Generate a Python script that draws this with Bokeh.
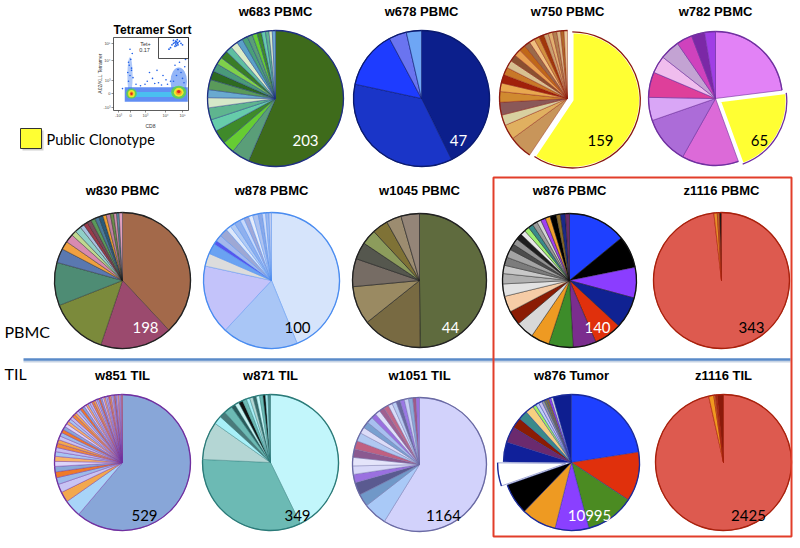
import math
from bokeh.plotting import figure
from bokeh.models import Range1d
from bokeh.core.properties import value
from bokeh.embed import file_html
from bokeh.resources import INLINE

# ---------------- data ----------------
titles = ["w683 PBMC", "w678 PBMC", "w750 PBMC", "w782 PBMC",
          "w830 PBMC", "w878 PBMC", "w1045 PBMC", "w876 PBMC", "z1116 PBMC",
          "w851 TIL", "w871 TIL", "w1051 TIL", "w876 Tumor", "z1116 TIL"]
clone_totals = ["203", "47", "159", "65", "198", "100", "44", "140", "343",
                "529", "349", "1164", "10995", "2425"]

w683_values = [59, 4.5, 3.0, 3.5, 3.0, 3.0, 2.5, 2.0, 2.5, 2.2, 2.0, 1.8, 2.0, 1.6,
               1.8, 1.5, 1.4, 1.3, 1.2, 1.1, 1.0, 0.9, 0.8, 0.8]
w678_values = [42.7, 35.6, 13.8, 4.2, 3.6]
w750_values = [58.5, 5.5, 3.5, 2.5, 3.0, 2.5, 2.0, 2.0, 1.8, 1.8, 1.6, 1.6, 1.5, 1.4,
               1.3, 1.2, 1.2, 1.1, 1.0, 1.0, 0.9, 0.8, 0.8]
w782_values = [23, 21.4, 13.7, 11.5, 5.6, 6.1, 4.2, 4.8, 3.8, 3.2, 2.6]
w830_values = [38.2, 17.2, 13.9, 10.3, 3.4, 2.0, 2.0, 1.2, 1.5, 1.0, 1.0, 1.0, 1.0,
               1.0, 1.0, 0.8, 1.0, 0.8, 0.7, 0.6, 0.8]
w878_values = [44.1, 18.2, 16.6, 3.1, 2.5, 1.0, 1.5, 2.0, 1.2, 1.2, 1.5, 1.0, 1.2,
               1.0, 1.3, 1.0, 0.8, 0.8, 0.6]
w1045_values = [48, 13.9, 8.9, 6.5, 4.0, 3.5, 3.7, 3.5, 4.3]
w876_values = [14.1, 7.8, 7.4, 7.7, 6.7, 5.6, 5.9, 4.5, 4.3, 3.5, 3.9, 3.0, 2.5, 2.0,
               2.0, 2.0, 1.5, 1.5, 1.5, 1.2, 1.2, 1.2, 1.2, 1.0, 1.2, 1.2, 1.5, 1.0,
               1.2, 1.0]
z1116_pbmc_values = [98.2, 0.8, 0.5, 0.5]
w851_values = [61.1, 4.1, 2.5, 2.0, 1.6, 1.4, 1.3, 1.2, 1.2, 1.1, 1.0, 1.0, 0.9, 0.9,
               0.9, 0.8, 0.8, 0.8, 0.7, 0.7, 0.7, 0.7, 0.6, 0.6, 0.6, 0.6, 0.6, 0.5,
               0.5, 0.5, 0.5, 0.5, 0.5, 0.4, 0.4, 0.4, 0.4, 0.4, 0.4, 0.4, 0.35, 0.35,
               0.35, 0.35, 0.3, 0.3, 0.3, 0.3, 0.3, 0.3, 0.25, 0.25]
w871_values = [43, 33.1, 9.1, 2.0, 1.5, 2.0, 1.0, 1.0, 1.0, 1.0, 0.8, 0.8, 0.8, 0.8,
               0.8, 0.6, 0.6, 0.6]
w1051_values = [57.8, 5.6, 3.0, 3.0, 2.0, 2.0, 2.0, 2.0, 2.0, 2.0, 1.5, 1.5, 1.5, 1.2,
                1.2, 1.2, 1.2, 1.0, 1.0, 1.0, 1.0, 1.0, 1.0, 0.8, 0.8]
w876_tumor_values = [22.5, 11.7, 11.6, 8.0, 8.3, 7.4, 5.5, 4.7, 3.8, 2.5, 2.2, 2.0, 0.8,
                     0.8, 0.8, 0.6, 0.6, 0.6, 0.5, 0.5, 4.4]
z1116_til_values = [96.5, 1.2, 0.4, 0.4, 1.5]

# flow-cytometry inset (percent of the plot frame: u = CD8, v = tetramer)
band_u = [57, 57]
band_v = [22, 22]
band_w = [84, 70]
band_h = [20, 7]
density_u = [22, 87, 24, 87, 24, 87, 24, 87, 24, 87]
density_v = [48, 40, 23, 25, 23, 25, 23, 25, 23, 26]
density_w = [7, 22, 14, 20, 9, 13, 5, 8, 3, 4.5]
density_h = [50, 38, 14, 18, 10, 12, 6, 7, 3.5, 4.5]
gate_u = [78, 80, 82, 83, 84, 85, 86, 84, 82, 88, 90, 76, 80, 86, 83, 92, 74, 85]
gate_v = [90, 92, 93, 91, 94, 92, 93, 89, 88, 95, 92, 86, 96, 90, 95, 90, 84, 97]
sparse_u = [20, 22, 24, 21, 23, 26, 19, 25, 22, 20, 24, 45, 52, 60, 66, 48, 58, 70,
            80, 84, 90, 95, 88, 92, 86, 96, 82, 94, 12, 30, 36, 42, 55, 64, 72, 76]
sparse_v = [40, 48, 55, 62, 70, 45, 52, 78, 84, 66, 58, 40, 44, 38, 48, 52, 55, 42,
            40, 48, 52, 60, 66, 44, 56, 70, 62, 38, 30, 36, 34, 36, 37, 35, 36, 40]
y_tick_labels = ["10⁵", "10⁴", "10³", "0", "-10³"]
x_tick_labels = ["-10³", "0", "10³", "10⁴", "10⁵"]
gate_label = ["Tet+", "0.17"]

# ---------------- styles ----------------
def cyc(base, n):
    return [base[i % len(base)] for i in range(n)]

w683_colors = ["#3e6b1b"] + cyc(["#5a9e78", "#66cc33", "#3f8a2a", "#66ccaa", "#5fb58f",
                                 "#d6e8c8", "#6aaad0", "#5a9a5a", "#2e6a20", "#4a9a7a",
                                 "#7fd04a", "#3a7d26", "#5fbfa0", "#dcecc8", "#5aa0c8",
                                 "#4aa078"], 23)
w678_colors = ["#0c1f8c", "#1a35c8", "#1e3cff", "#6a74f0", "#6ea6f5"]
w750_colors = ["#ffff33"] + cyc(["#c8955a", "#e0b060", "#d8d0a0", "#8a5858", "#d08a30",
                                 "#e8a850", "#a0200a", "#c87828", "#d8c090", "#8a5030",
                                 "#e8a050", "#c06818", "#9a6a4a", "#f0c080", "#d09040",
                                 "#a0380a", "#c8a070", "#e0b070", "#b08050", "#d8b888",
                                 "#b06828", "#e8c898"], 22)
w782_colors = ["#e282f6", "#ffff33", "#dc6ad8", "#ac6cd8", "#d9a6f6", "#de3f9a",
               "#f0bdee", "#c3a3d3", "#cf42bd", "#7b28a6", "#a03ee6"]
w830_colors = ["#a3694a", "#9b4a6e", "#7b8a3b", "#4e8c74", "#5a78b0", "#f0a040",
               "#d88ab0", "#c0d890", "#90d0c8", "#a8c0e0", "#9a3a4a", "#7a4a5a",
               "#5a9a5a", "#4a7a9a", "#2a5a7a", "#f0a030", "#c080a0", "#6a8a4a",
               "#d090b0", "#5a8aa0", "#e0a0c0"]
w878_colors = ["#d6e4fb", "#a9c6f6", "#c3c3fa", "#dcdcdc", "#6aa2f2", "#5656ee",
               "#a4b8ec", "#9ea8d4", "#dde8fa", "#b2cbf4", "#8fb0ee", "#c8d8fa",
               "#a0a8d8", "#e6ecfa", "#b0c4f0", "#8aa8e8", "#d0dcf8", "#9cb8f0", "#c0ccf0"]
w1045_colors = ["#5f6b3e", "#786a42", "#9a8a62", "#766c64", "#55574e", "#8c9c5c",
                "#7f7236", "#9c8c70", "#948578"]
w876_colors = ["#1e40ff", "#000000", "#8b3dff", "#102292", "#e0300c", "#7b2d8e",
               "#3d8c2a", "#ee9a22", "#d8d8d8", "#8b1c04", "#f6cca6", "#e2e2e2",
               "#b0b0b0", "#c8c8c8", "#7c7c7c", "#a4a4a4", "#4c4c4c", "#949494",
               "#1e1e1e", "#e8e8e8", "#a0f070", "#3a8a8a", "#9a9a9a", "#d4d4d4",
               "#a040f0", "#f0a030", "#000000", "#8a6a2a", "#1a2a8a", "#6a2a6a"]
z1116_pbmc_colors = ["#dd5a4f", "#e8902a", "#b07030", "#1a1a1a"]
w851_colors = ["#88a6d8", "#a8d4f8"] + cyc(["#f2a84e", "#c8c4f4", "#9cbaea", "#f07a28",
                                            "#8aa8d8", "#dcd4fa", "#f8b468", "#a8c4f2",
                                            "#c4bcf0", "#ef8a3a"], 50)
w871_colors = ["#c2f6fb", "#6cbab4", "#b4d6d4", "#a8f0f8", "#4a7a7a", "#6cbab4",
               "#2a5a5a", "#c8f0f0", "#111111", "#6cbab4", "#a8f0f8", "#b4d6d4",
               "#3a6a6a", "#c8f8fa", "#6cbab4", "#111111", "#a8e8f0", "#4a8a8a"]
w1051_colors = ["#d2d2fb", "#a9c9f7", "#7098c8", "#5a5a90", "#9a70e0", "#d8d8f8",
                "#e4e4fa", "#8a5a90", "#c06080", "#b0c8f0", "#dcdcf8", "#7aa0d0",
                "#a8c0f0", "#9a70e0", "#e0e0fa", "#a06090", "#c06888", "#d8dcf8",
                "#b8ccf2", "#6a6aa0", "#9a78e4", "#c8d0f4", "#8aaad8", "#a05a88", "#9a70e0"]
w876_tumor_colors = ["#1e40ff", "#e0300c", "#4b8b22", "#8a40ff", "#ee9a22", "#000000",
                     "#ffffff", "#10209a", "#6b2a6e", "#8b1c04", "#3a8a8a", "#f6d080",
                     "#a0f060", "#c0d0f8", "#c8c0f0", "#9a9a9a", "#7a7a4a", "#8a6a3a",
                     "#a040f0", "#e0e0e0", "#0e1e90"]
z1116_til_colors = ["#dd5a4f", "#f09a20", "#c07030", "#a03018", "#8a1a0a"]

pie_values = [w683_values, w678_values, w750_values, w782_values, w830_values,
              w878_values, w1045_values, w876_values, z1116_pbmc_values, w851_values,
              w871_values, w1051_values, w876_tumor_values, z1116_til_values]
pie_colors = [w683_colors, w678_colors, w750_colors, w782_colors, w830_colors,
              w878_colors, w1045_colors, w876_colors, z1116_pbmc_colors, w851_colors,
              w871_colors, w1051_colors, w876_tumor_colors, z1116_til_colors]
edges = ["#1f2f80", "#0a1a70", "#8b1a10", "#7030a0", "#222222", "#4a8cf0", "#222222",
         "#111111", "#a8200c", "#7030a0", "#2a7a78", "#6a6aa4", "#1a2a9a", "#a8200c"]
explode = [None, None, 0, 1, None, None, None, None, None, None, None, None, 6, None]
label_colors = ["white", "white", "black", "black", "white", "black", "white", "white",
                "black", "black", "black", "black", "white", "black"]

# layout in page pixels (x right, y down)
centers = [(275, 98), (421, 98), (567, 98), (715, 98),
           (122, 280), (271, 280), (419, 280), (569, 280), (721, 280),
           (122, 462), (270, 462), (419, 464), (571, 462), (723, 462)]
radii = [68, 68, 68, 67, 68, 68, 67, 67, 68, 68, 68, 67, 68, 68]
title_ys = [11, 11, 11, 11, 190, 190, 190, 190, 190, 375, 375, 375, 375, 375]
label_pos = [(305, 140), (458, 140), (600, 140), (759, 140), (145, 327), (297, 327),
             (450, 327), (597, 327), (751, 327), (144, 515), (297, 515), (443, 515),
             (589, 515), (748, 515)]

PW, PH = 800, 548


def Y(py):
    return PH - py


p = figure(width=PW, height=PH, x_range=Range1d(0, PW), y_range=Range1d(0, PH),
           output_backend="svg", toolbar_location=None, min_border=0,
           x_axis_location=None, y_axis_location=None)
p.grid.visible = False
p.outline_line_color = None
p.background_fill_color = "white"
p.border_fill_color = "white"

# separator line
p.segment(x0=[23], y0=[Y(361)], x1=[790], y1=[Y(361)], line_color="#c8d4e4", line_width=2)
p.segment(x0=[23], y0=[Y(359)], x1=[790], y1=[Y(359)], line_color="#5a8ac8", line_width=2.5)

# pies
for i, vals in enumerate(pie_values):
    cx, cyp = centers[i]
    cy = Y(cyp)
    r = radii[i]
    total = float(sum(vals))
    cum = 0.0
    xs, ys, st, en = [], [], [], []
    for j, v in enumerate(vals):
        a0 = math.pi / 2 - 2 * math.pi * cum / total
        cum += v
        a1 = math.pi / 2 - 2 * math.pi * cum / total
        ox = oy = 0.0
        if explode[i] == j:
            mid = (a0 + a1) / 2
            d = 6 if i == 12 else 5
            ox, oy = d * math.cos(mid), d * math.sin(mid)
        xs.append(cx + ox)
        ys.append(cy + oy)
        st.append(a0)
        en.append(a1)
    lw = 0.4 if len(vals) > 15 else 0.6
    p.wedge(x=xs, y=ys, radius=r, start_angle=st, end_angle=en, direction="clock",
            fill_color=pie_colors[i], line_color=edges[i], line_width=lw)
    if explode[i] is not None and i != 12:
        j = explode[i]
        p.wedge(x=[xs[j]], y=[ys[j]], radius=r, start_angle=[st[j]], end_angle=[en[j]],
                direction="clock", fill_color=pie_colors[i][j], line_color="white",
                line_width=2.5)
    p.arc(x=xs, y=ys, radius=r, start_angle=st, end_angle=en, direction="clock",
          line_color=edges[i], line_width=1.3)

# titles & totals
p.text(x=[c[0] for c in centers], y=[Y(t) for t in title_ys], text=titles,
       text_font=value("Liberation Sans"), text_font_style="bold", text_font_size="13px",
       text_align="center", text_baseline="middle", text_color="black")
p.text(x=[l[0] for l in label_pos], y=[Y(l[1]) for l in label_pos], text=clone_totals,
       text_font=value("Lato"), text_font_size="15px", text_align="center",
       text_baseline="middle", text_color=label_colors)

# row labels
p.text(x=[4, 4], y=[Y(331), Y(373)], text=["PBMC", "TIL"], text_font=value("Lato"),
       text_font_size="16px", text_align="left", text_baseline="middle", text_color="black")

# red box
p.quad(left=[493], right=[791], top=[Y(177)], bottom=[Y(536)], fill_color=None,
       line_color="#e23e2a", line_width=2)

# public clonotype legend
p.quad(left=[22], right=[43], top=[Y(130)], bottom=[Y(150)], fill_color="#b0b0b0",
       line_color=None, fill_alpha=0.6)
p.quad(left=[20], right=[41], top=[Y(128)], bottom=[Y(148)], fill_color="#ffff33",
       line_color="#333333", line_width=1)
p.text(x=[46], y=[Y(139)], text=["Public Clonotype"], text_font=value("Lato"),
       text_font_size="14.5px", text_align="left", text_baseline="middle", text_color="black")

# ---------------- flow cytometry inset ----------------
fx0, fx1, fy0, fy1 = 113, 188, 37, 110   # frame in page px
sx = (fx1 - fx0) / 100.0
sy = (fy1 - fy0) / 100.0


def IU(u):
    return fx0 + sx * u


def IV(v):
    return Y(fy1 - sy * v)


p.rect(x=[IU(u) for u in band_u], y=[IV(v) for v in band_v],
       width=[w * sx for w in band_w], height=[h * sy for h in band_h],
       fill_color=["#3a72f0", "#46c8ee"], fill_alpha=[0.8, 0.85], line_color=None)
dens_colors = ["#3a78f0", "#3a78f0", "#5fd24a", "#5fd24a",
               "#f2e62a", "#f2e62a", "#f59a2a", "#f59a2a", "#e0261a", "#e0261a"]
dens_alpha = [0.4, 0.55, 0.9, 0.9, 1, 1, 1, 1, 1, 1]
p.ellipse(x=[IU(u) for u in density_u], y=[IV(v) for v in density_v],
          width=[w * sx for w in density_w], height=[h * sy for h in density_h],
          fill_color=dens_colors, fill_alpha=dens_alpha, line_color=None)
p.scatter(x=[IU(u) for u in sparse_u], y=[IV(v) for v in sparse_v], size=1.6,
          fill_color="#2060e8", line_color=None)
p.scatter(x=[IU(u) for u in gate_u], y=[IV(v) for v in gate_v], size=1.8,
          fill_color="#2060e8", line_color=None)
p.quad(left=[fx0], right=[fx1], top=[Y(fy0)], bottom=[Y(fy1)], fill_color=None,
       line_color="#333333", line_width=0.8)
p.quad(left=[158], right=[fx1], top=[Y(fy0)], bottom=[Y(58)], fill_color=None,
       line_color="#222222", line_width=0.8)
ytick_py = [43, 60, 80, 93, 107]
xtick_px = [118, 130, 145, 165, 182]
p.segment(x0=[fx0 - 2] * 5, y0=[Y(t) for t in ytick_py], x1=[fx0] * 5,
          y1=[Y(t) for t in ytick_py], line_color="#444444", line_width=0.6)
p.segment(x0=xtick_px, y0=[Y(fy1 + 2)] * 5, x1=xtick_px, y1=[Y(fy1)] * 5,
          line_color="#444444", line_width=0.6)
p.text(x=[fx0 - 3] * 5, y=[Y(t) for t in ytick_py], text=y_tick_labels,
       text_font=value("Liberation Sans"), text_font_size="4px", text_align="right",
       text_baseline="middle", text_color="#444444")
p.text(x=xtick_px, y=[Y(fy1 + 5)] * 5, text=x_tick_labels,
       text_font=value("Liberation Sans"), text_font_size="4px", text_align="center",
       text_baseline="middle", text_color="#444444")
p.text(x=[150], y=[Y(125)], text=["CD8"], text_font=value("Liberation Sans"),
       text_font_size="5px", text_align="center", text_baseline="middle", text_color="#333333")
p.text(x=[99], y=[Y(73)], text=["A02/KLL Tetramer"], angle=math.pi / 2,
       text_font=value("Liberation Sans"), text_font_size="5px", text_align="center",
       text_baseline="middle", text_color="#333333")
p.text(x=[145, 144], y=[Y(43), Y(49)], text=gate_label, text_font=value("Liberation Sans"),
       text_font_size="5.5px", text_align="center", text_baseline="middle",
       text_color="#333333")
p.text(x=[152], y=[Y(29)], text=["Tetramer Sort"], text_font=value("Liberation Sans"),
       text_font_style="bold", text_font_size="12px", text_align="center",
       text_baseline="middle", text_color="black")

open("out.html", "w").write(file_html(p, INLINE))
